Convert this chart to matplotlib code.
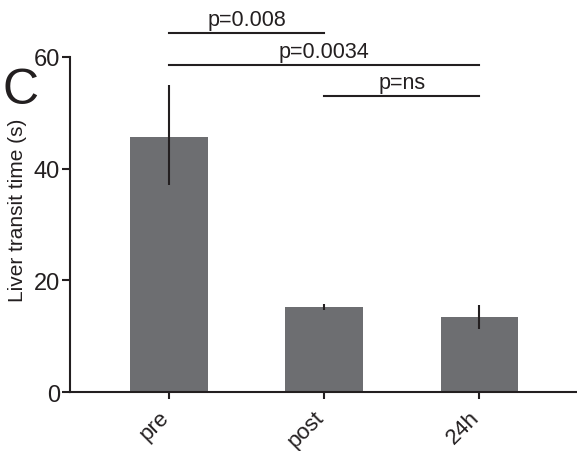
import matplotlib.pyplot as plt
from matplotlib.transforms import ScaledTranslation

plt.rcParams["font.family"] = ["Liberation Sans", "DejaVu Sans"]

groups = ["pre", "post", "24h"]
means = [45.6, 15.2, 13.4]
err_low = [8.5, 0.5, 2.2]
err_high = [9.4, 0.5, 2.1]

# significance brackets: (from, to, height, label)
sig_pairs = [(0, 1, 64.3, "p=0.008"), (0, 2, 58.6, "p=0.0034"), (1, 2, 53.0, "p=ns")]

ink = "#231f20"

fig = plt.figure(figsize=(5.77, 4.52), dpi=100)
ax = fig.add_axes([0.121, 0.1305, 0.879, 0.7412])

x = range(len(groups))
ax.bar(x, means, width=0.5, color="#6d6e71")
ax.errorbar(x, means, yerr=[err_low, err_high], fmt="none", ecolor=ink, elinewidth=1.5, capsize=0)

for a, b, h, lab in sig_pairs:
    ax.plot([a, b], [h, h], color=ink, lw=1.5, clip_on=False)
    ax.text((a + b) / 2, h + 1.4, lab, ha="center", va="baseline", fontsize=15.5, color=ink)

ax.set_xlim(-0.64, 2.63)
ax.set_ylim(0, 60)
ax.set_yticks([0, 20, 40, 60])
ax.set_xticks(list(x))
ax.set_xticklabels(groups, rotation=45, ha="right", va="center", rotation_mode="anchor", fontsize=16)
ax.tick_params(axis="y", labelsize=17, width=1.5, length=6, pad=1, colors=ink)
ax.tick_params(axis="x", width=1.5, length=5, pad=10.5, colors=ink)
# nudge rotated labels a bit to the left
shift = ScaledTranslation(-3.5 / 100, 0, fig.dpi_scale_trans)
for lbl in ax.get_xticklabels():
    lbl.set_transform(lbl.get_transform() + shift)
ax.set_ylabel("Liver transit time (s)", fontsize=15, color=ink)
ax.yaxis.set_label_coords(-0.085, 0.546)

for s in ["top", "right"]:
    ax.spines[s].set_visible(False)
for s in ["left", "bottom"]:
    ax.spines[s].set_linewidth(1.5)
    ax.spines[s].set_color(ink)

fig.text(0.004, 0.77, "C", fontsize=36, color=ink, ha="left", va="baseline")

fig.savefig("out.png", dpi=100)
